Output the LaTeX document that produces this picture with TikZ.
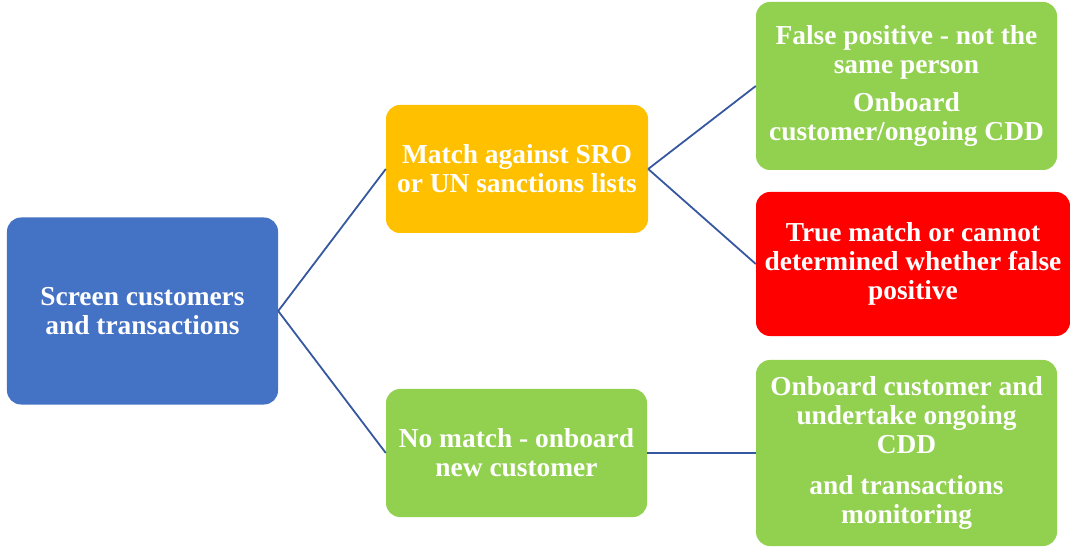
\documentclass[tikz,border=0pt]{standalone}
\usepackage{fontspec}
\setmainfont{Liberation Serif}
\definecolor{boxblue}{HTML}{4472C4}
\definecolor{boxorange}{HTML}{FFC000}
\definecolor{boxgreen}{HTML}{92D050}
\definecolor{boxred}{HTML}{FF0000}
\definecolor{linkblue}{HTML}{3558A0}
\begin{document}
\begin{tikzpicture}[x=1bp,y=-1bp,
  box/.style={rectangle, rounded corners=14bp, draw=none, text=white,
    font=\bfseries\fontsize{27.5}{29}\selectfont, align=center, inner sep=0pt},
  link/.style={draw=linkblue, line width=1.8bp}]
\useasboundingbox (0,0) rectangle (1070,549);
\node[box, fill=boxblue, minimum width=271bp, minimum height=187bp] (screen) at (142.5,311)
  {Screen customers\\and transactions};
\node[box, fill=boxorange, minimum width=262bp, minimum height=128bp] (match) at (517,169)
  {Match against SRO\\or UN sanctions lists};
\node[box, fill=boxgreen, minimum width=261bp, minimum height=128bp] (nomatch) at (516.5,453)
  {No match - onboard\\new customer};
\node[box, fill=boxgreen, minimum width=301bp, minimum height=168bp] (falsepos) at (906.5,86)
  {False positive - not the\\same person\\[10bp]Onboard\\customer/ongoing CDD};
\node[box, fill=boxred, minimum width=314bp, minimum height=144bp] (truematch) at (913,264)
  {True match or cannot\\determined whether false\\positive};
\node[box, fill=boxgreen, minimum width=301bp, minimum height=186bp] (onboard) at (906.5,453)
  {Onboard customer and\\undertake ongoing\\CDD\\[12bp]and transactions\\monitoring};
\draw[link] (screen.east) -- (match.west);
\draw[link] (screen.east) -- (nomatch.west);
\draw[link] (match.east) -- (falsepos.west);
\draw[link] (match.east) -- (truematch.west);
\draw[link] (nomatch.east) -- (onboard.west);
\end{tikzpicture}
\end{document}
